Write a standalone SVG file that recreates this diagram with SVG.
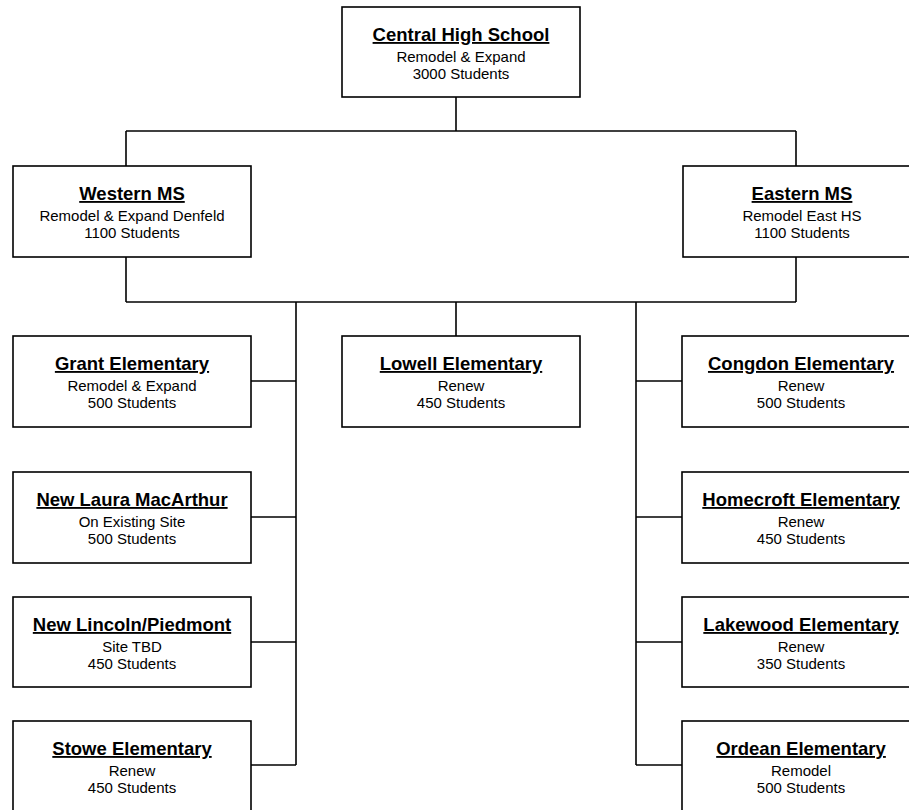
<svg xmlns="http://www.w3.org/2000/svg" width="909" height="810" viewBox="0 0 909 810">
<style>
.box{fill:#fff;stroke:#000;stroke-width:1.6}
.conn line{stroke:#000;stroke-width:1.6}
text{font-family:"Liberation Sans",Arial,sans-serif;fill:#000;text-anchor:middle}
.t{font-size:18.5px;font-weight:bold;text-decoration:underline}
.s{font-size:15px}
</style>
<rect width="909" height="810" fill="#fff"/>
<g class="conn" id="connectors">
<line x1="456" y1="97" x2="456" y2="131"/>
<line x1="126" y1="131" x2="796" y2="131"/>
<line x1="126" y1="131" x2="126" y2="166"/>
<line x1="796" y1="131" x2="796" y2="166"/>
<line x1="126" y1="257" x2="126" y2="302"/>
<line x1="796" y1="257" x2="796" y2="302"/>
<line x1="126" y1="302" x2="796" y2="302"/>
<line x1="296" y1="302" x2="296" y2="765"/>
<line x1="456" y1="302" x2="456" y2="336"/>
<line x1="636" y1="302" x2="636" y2="765"/>
<line x1="251" y1="381" x2="296" y2="381"/>
<line x1="251" y1="517" x2="296" y2="517"/>
<line x1="251" y1="642" x2="296" y2="642"/>
<line x1="251" y1="765" x2="296" y2="765"/>
<line x1="636" y1="381" x2="682" y2="381"/>
<line x1="636" y1="517" x2="682" y2="517"/>
<line x1="636" y1="642" x2="682" y2="642"/>
<line x1="636" y1="765" x2="682" y2="765"/>
</g>
<g id="central"><rect class="box" x="342" y="7" width="238" height="90"/><text class="t" x="461" y="41">Central High School</text><text class="s" x="461" y="62">Remodel &amp; Expand</text><text class="s" x="461" y="79">3000 Students</text></g>
<g id="western"><rect class="box" x="13" y="166" width="238" height="91"/><text class="t" x="132" y="200">Western MS</text><text class="s" x="132" y="221">Remodel &amp; Expand Denfeld</text><text class="s" x="132" y="238">1100 Students</text></g>
<g id="eastern"><rect class="box" x="683" y="166" width="238" height="91"/><text class="t" x="802" y="200">Eastern MS</text><text class="s" x="802" y="221">Remodel East HS</text><text class="s" x="802" y="238">1100 Students</text></g>
<g id="grant"><rect class="box" x="13" y="336" width="238" height="91"/><text class="t" x="132" y="370">Grant Elementary</text><text class="s" x="132" y="391">Remodel &amp; Expand</text><text class="s" x="132" y="408">500 Students</text></g>
<g id="lowell"><rect class="box" x="342" y="336" width="238" height="91"/><text class="t" x="461" y="370">Lowell Elementary</text><text class="s" x="461" y="391">Renew</text><text class="s" x="461" y="408">450 Students</text></g>
<g id="congdon"><rect class="box" x="682" y="336" width="238" height="91"/><text class="t" x="801" y="370">Congdon Elementary</text><text class="s" x="801" y="391">Renew</text><text class="s" x="801" y="408">500 Students</text></g>
<g id="laura"><rect class="box" x="13" y="472" width="238" height="91"/><text class="t" x="132" y="506">New Laura MacArthur</text><text class="s" x="132" y="527">On Existing Site</text><text class="s" x="132" y="544">500 Students</text></g>
<g id="homecroft"><rect class="box" x="682" y="472" width="238" height="91"/><text class="t" x="801" y="506">Homecroft Elementary</text><text class="s" x="801" y="527">Renew</text><text class="s" x="801" y="544">450 Students</text></g>
<g id="lincoln"><rect class="box" x="13" y="597" width="238" height="90"/><text class="t" x="132" y="631">New Lincoln/Piedmont</text><text class="s" x="132" y="652">Site TBD</text><text class="s" x="132" y="669">450 Students</text></g>
<g id="lakewood"><rect class="box" x="682" y="597" width="238" height="90"/><text class="t" x="801" y="631">Lakewood Elementary</text><text class="s" x="801" y="652">Renew</text><text class="s" x="801" y="669">350 Students</text></g>
<g id="stowe"><rect class="box" x="13" y="721" width="238" height="91"/><text class="t" x="132" y="755">Stowe Elementary</text><text class="s" x="132" y="776">Renew</text><text class="s" x="132" y="793">450 Students</text></g>
<g id="ordean"><rect class="box" x="682" y="721" width="238" height="91"/><text class="t" x="801" y="755">Ordean Elementary</text><text class="s" x="801" y="776">Remodel</text><text class="s" x="801" y="793">500 Students</text></g>
</svg>
